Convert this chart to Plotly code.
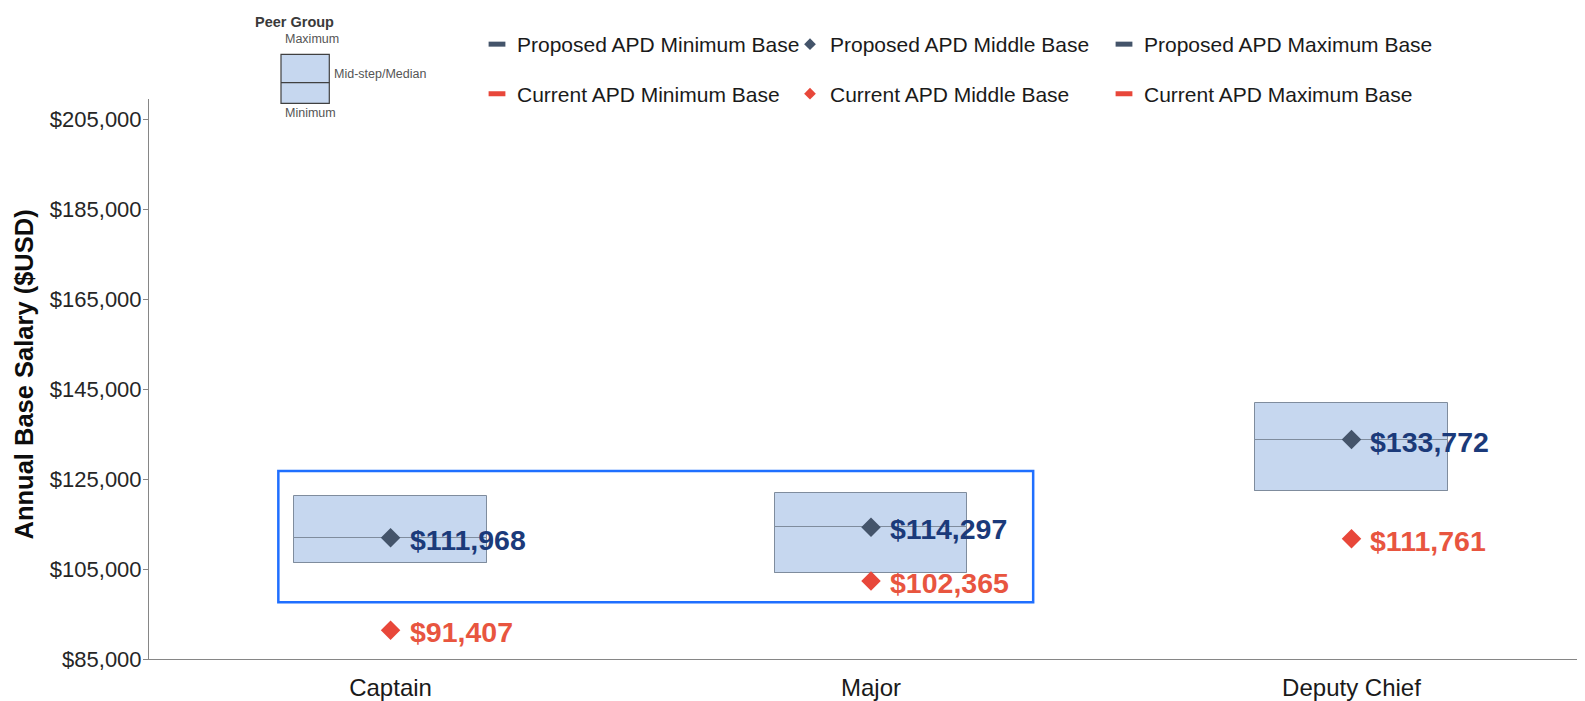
import plotly.graph_objects as go

# ---------------- data ----------------
categories = ["Captain", "Major", "Deputy Chief"]
peer_min = [106350, 104150, 122370]
peer_median = [111950, 114400, 133700]
peer_max = [121200, 121850, 142000]
proposed_mid = [111968, 114297, 133772]
current_mid = [91407, 102365, 111761]
y_ticks = [85000, 105000, 125000, 145000, 165000, 185000, 205000]
y_tick_labels = [f"${v:,}" for v in y_ticks]

legend_names = [
    "Proposed APD Minimum Base", "Proposed APD Middle Base", "Proposed APD Maximum Base",
    "Current APD Minimum Base", "Current APD Middle Base", "Current APD Maximum Base",
]

# ---------------- style ----------------
FONT = "Liberation Sans, Arial, sans-serif"
BOX_FILL = "#C6D7EF"
BOX_LINE = "#7F8C9D"
PROP = "#44546A"
PROP_TXT = "#1B3A7A"
CURR = "#E8473A"
CURR_TXT = "#E8553F"
AXIS = "#868686"

# the page body adds an 8px margin; the figure is sized/positioned to compensate
OFF = 8
W, H = 1585 - OFF, 701 - OFF
ML, MR, MT, MB = 149 - OFF, 0, 99 - OFF, 701 - 659
PW, PH = W - ML - MR, H - MT - MB


def px_x(page_px):
    return (page_px - OFF - ML) / PW


def px_y(page_py):
    return (H - MB - (page_py - OFF)) / PH


fig = go.Figure()

# peer group boxes (min -> max) and lower part (min -> median) to draw the median line
fig.add_trace(go.Bar(
    x=categories, base=peer_min, y=[mx - mn for mx, mn in zip(peer_max, peer_min)],
    width=0.4, marker=dict(color=BOX_FILL, line=dict(color=BOX_LINE, width=1)),
    showlegend=False, hoverinfo="skip"))
fig.add_trace(go.Bar(
    x=categories, base=peer_min, y=[md - mn for md, mn in zip(peer_median, peer_min)],
    width=0.4, marker=dict(color=BOX_FILL, line=dict(color=BOX_LINE, width=1)),
    showlegend=False, hoverinfo="skip"))

# middle-base diamonds
fig.add_trace(go.Scatter(
    x=categories, y=proposed_mid, mode="markers",
    marker=dict(symbol="diamond", size=15, color=PROP),
    showlegend=False, name=legend_names[1]))
fig.add_trace(go.Scatter(
    x=categories, y=current_mid, mode="markers",
    marker=dict(symbol="diamond", size=15, color=CURR),
    showlegend=False, name=legend_names[4]))

# legend entries
legend_styles = [
    dict(symbol="line-ew", size=12, color=PROP, line=dict(color=PROP, width=5)),
    dict(symbol="diamond", size=9, color=PROP),
    dict(symbol="line-ew", size=12, color=PROP, line=dict(color=PROP, width=5)),
    dict(symbol="line-ew", size=12, color=CURR, line=dict(color=CURR, width=5)),
    dict(symbol="diamond", size=9, color=CURR),
    dict(symbol="line-ew", size=12, color=CURR, line=dict(color=CURR, width=5)),
]
legend_ids = ["legend", "legend2", "legend3", "legend4", "legend5", "legend6"]
for name, st, lid in zip(legend_names, legend_styles, legend_ids):
    fig.add_trace(go.Scatter(x=[None], y=[None], mode="markers", name=name,
                             marker=st, legend=lid, showlegend=True))

legend_left = [477, 790, 1104]   # page px
row_y = [44.5, 94]               # page px
legend_layout = {}
for k, lid in enumerate(legend_ids):
    r, c = divmod(k, 3)
    legend_layout[lid] = dict(
        xref="container", yref="container",
        x=(legend_left[c] - OFF) / W, y=1 - (row_y[r] - OFF) / H,
        xanchor="left", yanchor="middle",
        bgcolor="rgba(0,0,0,0)", borderwidth=0,
        font=dict(family=FONT, size=21, color="#1a1a1a"),
        orientation="h")

annotations = []
# data labels
for cat, v in zip(categories, proposed_mid):
    annotations.append(dict(x=cat, y=v, xref="x", yref="y", text=f"${v:,}",
                            showarrow=False, xanchor="left", yanchor="middle",
                            xshift=17, yshift=-2,
                            font=dict(family=FONT, size=28.5, color=PROP_TXT, weight="bold")))
for cat, v in zip(categories, current_mid):
    annotations.append(dict(x=cat, y=v, xref="x", yref="y", text=f"${v:,}",
                            showarrow=False, xanchor="left", yanchor="middle",
                            xshift=17, yshift=-2,
                            font=dict(family=FONT, size=28.5, color=CURR_TXT, weight="bold")))

# y-axis title
annotations.append(dict(x=px_x(23), y=px_y(374.5), xref="paper", yref="paper",
                        text="Annual Base Salary ($USD)", textangle=-90, showarrow=False,
                        xanchor="center", yanchor="middle",
                        font=dict(family=FONT, size=25.5, color="#0d0d0d", weight="bold")))

# peer group key
PG = "#555555"
annotations += [
    dict(x=px_x(252.5), y=px_y(21.7), xref="paper", yref="paper", text="Peer Group",
         showarrow=False, xanchor="left", yanchor="middle",
         font=dict(family=FONT, size=14.5, color="#3a3a3a", weight="bold")),
    dict(x=px_x(311.5), y=px_y(39.3), xref="paper", yref="paper", text="Maximum",
         showarrow=False, xanchor="center", yanchor="middle",
         font=dict(family=FONT, size=12.5, color=PG)),
    dict(x=px_x(331.5), y=px_y(74.3), xref="paper", yref="paper", text="Mid-step/Median",
         showarrow=False, xanchor="left", yanchor="middle",
         font=dict(family=FONT, size=12.5, color=PG)),
    dict(x=px_x(310.5), y=px_y(113.3), xref="paper", yref="paper", text="Minimum",
         showarrow=False, xanchor="center", yanchor="middle",
         font=dict(family=FONT, size=12.5, color=PG)),
]

shapes = [
    # highlight rectangle around Captain and Major
    dict(type="rect", xref="x", yref="y", x0=-0.2335, x1=1.3375, y0=97600, y1=126800,
         line=dict(color="#1F6FFF", width=2.5), fillcolor="rgba(0,0,0,0)", layer="above"),
    # peer group key box
    dict(type="rect", xref="paper", yref="paper", x0=px_x(281), x1=px_x(329.3),
         y0=px_y(103.3), y1=px_y(54.3), fillcolor=BOX_FILL,
         line=dict(color="#404040", width=1.2)),
    dict(type="line", xref="paper", yref="paper", x0=px_x(281), x1=px_x(329.3),
         y0=px_y(82.7), y1=px_y(82.7), line=dict(color="#404040", width=1.2)),
]

fig.update_layout(
    width=W, height=H,
    margin=dict(l=ML, r=MR, t=MT, b=MB, autoexpand=False),
    paper_bgcolor="white", plot_bgcolor="white",
    barmode="overlay", bargap=0,
    font=dict(family=FONT),
    annotations=annotations, shapes=shapes,
    **legend_layout,
)
fig.update_xaxes(
    type="category", range=[-0.5027, 2.486],
    showline=True, linecolor=AXIS, linewidth=1,
    ticks="", showgrid=False, zeroline=False,
    tickfont=dict(family=FONT, size=24, color="#1a1a1a"),
    ticklabelstandoff=7,
)
fig.update_yaxes(
    range=[85000, 209500], tickvals=y_ticks, ticktext=y_tick_labels,
    showline=True, linecolor=AXIS, linewidth=1,
    ticks="outside", ticklen=5, tickcolor=AXIS,
    showgrid=False, zeroline=False,
    tickfont=dict(family=FONT, size=22, color="#262626"),
    ticklabelstandoff=-3,
)

fig.write_html("out.html")
